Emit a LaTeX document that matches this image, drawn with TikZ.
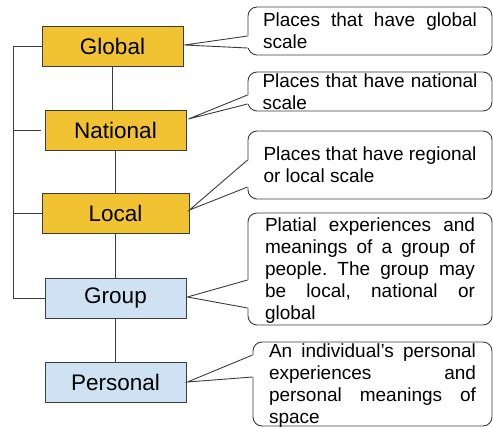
\documentclass[tikz,border=0pt]{standalone}
\usepackage{fontspec}
\setmainfont{Liberation Sans}
\usetikzlibrary{calc}
\definecolor{yel}{HTML}{F1C232}
\definecolor{lblue}{HTML}{CFE2F3}
\definecolor{ln}{HTML}{3C3C3C}
\frenchspacing
\newcommand\callptr[4]{%
  \fill[white] ($(#1.west |- 0,#2)+(1.5,0)$) -- (#4) -- ($(#1.west |- 0,#3)+(1.5,0)$) -- cycle;
  \draw[link] (#1.west |- 0,#2) -- (#4) -- (#1.west |- 0,#3);}
\begin{document}
\begin{tikzpicture}[x=1pt,y=-1pt,
  tierbox/.style={draw=ln, line width=0.9pt, minimum width=141pt, minimum height=40pt, inner sep=0pt, font=\fontsize{22.5}{26}\selectfont},
  scalebox/.style={tierbox, fill=yel},
  personbox/.style={tierbox, fill=lblue},
  callbox/.style={draw=ln, line width=0.9pt, fill=white, rounded corners=9pt, inner sep=0pt, text depth=0pt, align=left, font=\fontsize{19}{22}\selectfont},
  link/.style={draw=ln, line width=0.9pt}]
\useasboundingbox (0,0) rectangle (493,427);

% level boxes
\node[scalebox] (global) at (112.5,46) {Global};
\node[scalebox] (national) at (115.5,130) {National};
\node[scalebox, minimum width=147pt] (local) at (115.5,213) {Local};
\node[personbox] (group) at (115.5,298) {Group};
\node[personbox] (personal) at (115.5,382) {Personal};

% vertical links
\draw[link] (global.south) -- (global.south |- national.north);
\draw[link] (national.south) -- (national.south |- local.north);
\draw[link] (local.south) -- (local.south |- group.north);
\draw[link] (group.south) -- (group.south |- personal.north);

% left bus
\coordinate (bus) at (13,46);
\draw[link] (global.west) -- (bus) -- (bus |- group.west) -- (group.west);
\draw[link] (bus |- national.west) -- ($(national.west)+(-4,0)$);
\draw[link] (bus |- local.west) -- (local.west);

% callouts
\node[callbox, minimum width=244pt, minimum height=48pt] (c1) at (370,31)
  {\makebox[214pt][s]{Places that have global}\\scale};
\node[callbox, minimum width=244pt, minimum height=39pt] (c2) at (370,91.5)
  {\makebox[215pt][s]{Places that have national}\\scale};
\node[callbox, minimum width=244pt, minimum height=68pt] (c3) at (370,165)
  {\makebox[213pt][s]{Places that have regional}\\or local scale};
\node[callbox, minimum width=244pt, minimum height=112pt] (c4) at (370,269)
  {\makebox[210pt][s]{Platial experiences and}\\
   \makebox[210pt][s]{meanings of a group of}\\
   \makebox[210pt][s]{people. The group may}\\
   \makebox[210pt][s]{be local, national or}\\
   global};
\node[callbox, minimum width=239pt, minimum height=84pt] (c5) at (372.5,384)
  {\makebox[207pt][s]{An individual's personal}\\
   \makebox[207pt][s]{experiences and}\\
   \makebox[207pt][s]{personal meanings of}\\
   space};

\coordinate (p1) at ($(global.east)+(1,-1)$);
\coordinate (p2) at ($(national.east)+(2,-11)$);
\coordinate (p3) at ($(local.east)+(0,-3)$);
\coordinate (p4) at ($(group.east)+(1,-1)$);
\coordinate (p5) at ($(personal.east)+(1,0)$);
\callptr{c1}{36}{48}{p1}
\callptr{c2}{95}{104}{p2}
\callptr{c3}{160}{187}{p3}
\callptr{c4}{280}{308}{p4}
\callptr{c5}{355}{377}{p5}
\end{tikzpicture}
\end{document}
